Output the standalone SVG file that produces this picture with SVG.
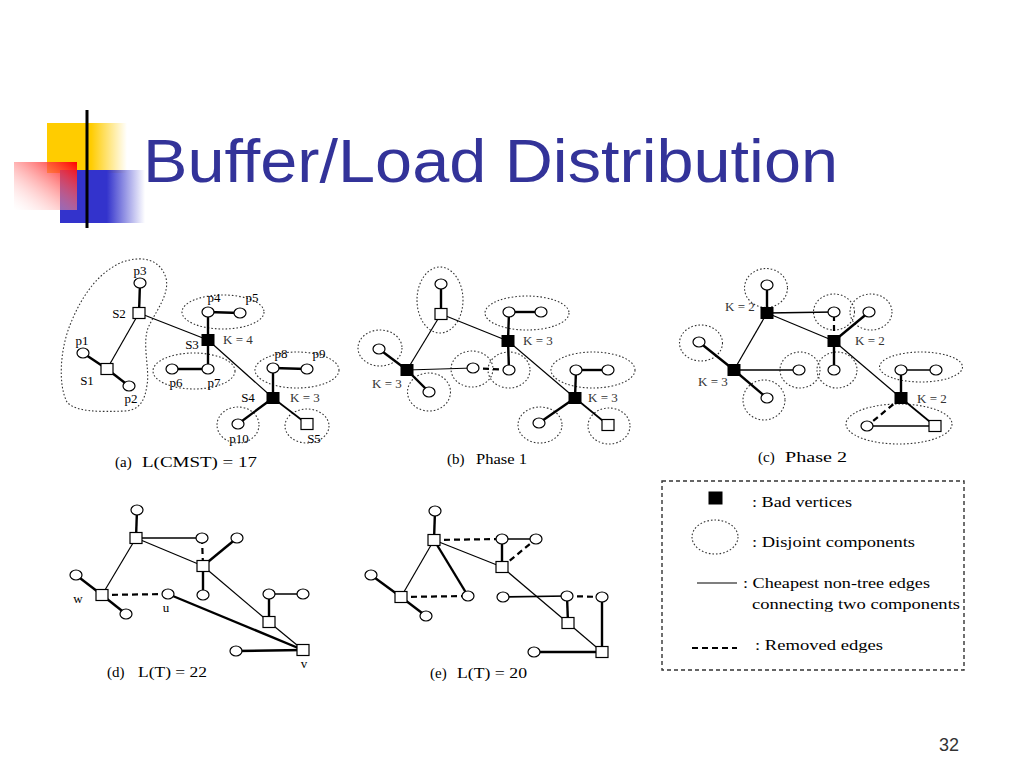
<svg xmlns="http://www.w3.org/2000/svg" width="1024" height="768" viewBox="0 0 1024 768">
<defs>
<linearGradient id="gY" x1="0" y1="0" x2="1" y2="0"><stop offset="0.55" stop-color="#FFCC00"/><stop offset="1" stop-color="#FFCC00" stop-opacity="0"/></linearGradient>
<linearGradient id="gB" x1="0" y1="0" x2="1" y2="0"><stop offset="0.55" stop-color="#3333CC"/><stop offset="1" stop-color="#3333CC" stop-opacity="0"/></linearGradient>
<linearGradient id="gR" x1="1" y1="0" x2="0" y2="1"><stop offset="0" stop-color="#FF0000"/><stop offset="1" stop-color="#FFFFFF" stop-opacity="0.2"/></linearGradient>
<linearGradient id="gL" x1="0" y1="0" x2="1" y2="0"><stop offset="0" stop-color="#000000"/><stop offset="0.5" stop-color="#777777"/><stop offset="1" stop-color="#DDDDDD" stop-opacity="0.3"/></linearGradient>
<clipPath id="clipE"><rect x="400" y="655" width="150" height="26"/></clipPath>
</defs>
<style>
.c{fill:#fff;stroke:#000;stroke-width:1.2}
.s{fill:#fff;stroke:#000;stroke-width:1.2}
.b{fill:#000;stroke:#000;stroke-width:1}
.comp{fill:none;stroke:#333;stroke-width:1.1;stroke-dasharray:1.6 2}
.thin{stroke:#000;stroke-width:1.2;fill:none}
.med{stroke:#000;stroke-width:1.7;fill:none}
.thick{stroke:#000;stroke-width:2.4;fill:none}
.dash{stroke:#000;stroke-width:2.2;stroke-dasharray:6 4;fill:none}
.lbl{font-family:"Liberation Serif",serif;font-size:13px;fill:#000;text-anchor:middle}
.k{font-family:"Liberation Serif",serif;font-size:13px;fill:#333}
.cap{font-family:"Liberation Serif",serif;font-size:15px;fill:#000}
.leg{font-family:"Liberation Serif",serif;font-size:15px;fill:#000}
</style>
<rect width="1024" height="768" fill="#fff"/>

<!-- title decoration -->
<g id="title-decoration">
<rect x="47" y="123" width="80" height="50" fill="url(#gY)"/>
<rect x="60" y="170" width="85" height="53" fill="url(#gB)"/>
<rect x="14" y="162" width="63" height="48" fill="url(#gR)"/>
<line x1="87" y1="110" x2="87" y2="228" stroke="#000" stroke-width="3"/>
<line x1="49" y1="201" x2="965" y2="201" stroke="url(#gL)" stroke-width="3"/>
</g>
<text id="title" x="143" y="182" font-family="Liberation Sans, sans-serif" font-size="62" fill="#333399" textLength="695" lengthAdjust="spacingAndGlyphs">Buffer/Load Distribution</text>
<text id="page-number" x="939" y="751" font-family="Liberation Sans, sans-serif" font-size="18" fill="#333">32</text>

<!-- components -->
<g id="components">
<path class="comp" d="M67,402 C58,385 60,350 70,325 C80,300 95,275 120,263 C140,255 160,258 166,278 C170,295 155,312 148,328 C142,345 150,370 147,385 C145,400 140,410 125,411 C100,412 75,412 67,402 Z"/>
<ellipse class="comp" cx="223" cy="312" rx="41" ry="17"/>
<ellipse class="comp" cx="194" cy="371" rx="41" ry="18"/>
<ellipse class="comp" cx="297" cy="370" rx="42" ry="18"/>
<ellipse class="comp" cx="238" cy="425" rx="21" ry="18"/>
<ellipse class="comp" cx="307" cy="426" rx="22" ry="17"/>

<ellipse class="comp" cx="440" cy="300" rx="23" ry="33"/>
<ellipse class="comp" cx="527" cy="313" rx="42" ry="17"/>
<ellipse class="comp" cx="380" cy="348" rx="22" ry="18"/>
<ellipse class="comp" cx="429" cy="392" rx="21.5" ry="19"/>
<ellipse class="comp" cx="472" cy="369" rx="21" ry="18"/>
<ellipse class="comp" cx="509" cy="370" rx="21" ry="18"/>
<ellipse class="comp" cx="593" cy="370" rx="42" ry="18"/>
<ellipse class="comp" cx="540" cy="425" rx="22" ry="18"/>
<ellipse class="comp" cx="609" cy="426" rx="21" ry="18"/>

<ellipse class="comp" cx="766" cy="288" rx="21.5" ry="19.5"/>
<ellipse class="comp" cx="834" cy="312" rx="20.5" ry="18"/>
<ellipse class="comp" cx="871" cy="312" rx="21" ry="18"/>
<ellipse class="comp" cx="837" cy="370" rx="20" ry="18"/>
<ellipse class="comp" cx="701" cy="343" rx="21.5" ry="18"/>
<ellipse class="comp" cx="800" cy="370" rx="20" ry="18"/>
<ellipse class="comp" cx="764" cy="400" rx="21" ry="20"/>
<ellipse class="comp" cx="921" cy="367" rx="41.5" ry="15"/>
<ellipse class="comp" cx="899" cy="424" rx="53" ry="20"/>
</g>

<!-- connectors -->
<g id="connectors">
<!-- (a) -->
<line class="thick" x1="140" y1="283" x2="139" y2="313"/>
<line class="thin" x1="139" y1="313" x2="107" y2="369"/>
<line class="thick" x1="107" y1="369" x2="83" y2="353"/>
<line class="thick" x1="107" y1="369" x2="129" y2="386"/>
<line class="thin" x1="139" y1="313" x2="208" y2="340"/>
<line class="thick" x1="208" y1="340" x2="208" y2="312"/>
<line class="thick" x1="208" y1="312" x2="240" y2="313"/>
<line class="thick" x1="208" y1="340" x2="208" y2="369"/>
<line class="thick" x1="172" y1="369" x2="208" y2="369"/>
<line class="thin" x1="208" y1="340" x2="273" y2="398"/>
<line class="thick" x1="273" y1="398" x2="273" y2="368"/>
<line class="thick" x1="273" y1="368" x2="307" y2="369"/>
<line class="thick" x1="273" y1="398" x2="238" y2="424"/>
<line class="med" x1="273" y1="398" x2="307" y2="424"/>
<!-- (b) -->
<line class="thick" x1="441" y1="284" x2="441" y2="314"/>
<line class="thin" x1="441" y1="314" x2="508" y2="341"/>
<line class="thin" x1="441" y1="314" x2="407" y2="370"/>
<line class="thick" x1="508" y1="341" x2="509" y2="312"/>
<line class="thick" x1="509" y1="312" x2="541" y2="312"/>
<line class="thick" x1="508" y1="341" x2="509" y2="370"/>
<line class="thick" x1="407" y1="370" x2="379" y2="349"/>
<line class="thick" x1="407" y1="370" x2="429" y2="392"/>
<line class="thin" x1="407" y1="370" x2="473" y2="368"/>
<line class="dash" x1="473" y1="368" x2="509" y2="370"/>
<line class="thin" x1="508" y1="341" x2="575" y2="398"/>
<line class="thick" x1="575" y1="398" x2="576" y2="370"/>
<line class="thick" x1="576" y1="370" x2="608" y2="370"/>
<line class="thick" x1="575" y1="398" x2="539" y2="423"/>
<line class="med" x1="575" y1="398" x2="608" y2="425"/>
<!-- (c) -->
<line class="thick" x1="767" y1="285" x2="767" y2="313"/>
<line class="med" x1="767" y1="313" x2="834" y2="312"/>
<line class="dash" x1="834" y1="341" x2="834" y2="312"/>
<line class="thick" x1="834" y1="341" x2="869" y2="312"/>
<line class="thin" x1="767" y1="313" x2="834" y2="341"/>
<line class="thick" x1="834" y1="341" x2="834" y2="370"/>
<line class="thin" x1="767" y1="313" x2="734" y2="370"/>
<line class="thick" x1="734" y1="370" x2="699" y2="342"/>
<line class="med" x1="734" y1="370" x2="799" y2="370"/>
<line class="thick" x1="734" y1="370" x2="767" y2="398"/>
<line class="thin" x1="834" y1="341" x2="901" y2="398"/>
<line class="thick" x1="901" y1="398" x2="901" y2="370"/>
<line class="med" x1="901" y1="370" x2="936" y2="370"/>
<line class="dash" x1="901" y1="398" x2="867" y2="426"/>
<line class="med" x1="901" y1="398" x2="935" y2="426"/>
<line class="med" x1="867" y1="426" x2="935" y2="426"/>
<!-- (d) -->
<line class="thick" x1="137" y1="510" x2="136" y2="538"/>
<line class="med" x1="136" y1="538" x2="202" y2="538"/>
<line class="dash" x1="202" y1="538" x2="203" y2="566"/>
<line class="thick" x1="203" y1="566" x2="237" y2="538"/>
<line class="thick" x1="203" y1="566" x2="203" y2="595"/>
<line class="thin" x1="136" y1="538" x2="203" y2="566"/>
<line class="thin" x1="136" y1="538" x2="102" y2="595"/>
<line class="thick" x1="102" y1="595" x2="76" y2="575"/>
<line class="thick" x1="102" y1="595" x2="126" y2="614"/>
<line class="dash" x1="102" y1="595" x2="168" y2="594"/>
<line class="thin" x1="203" y1="566" x2="269" y2="622"/>
<line class="thick" x1="269" y1="622" x2="269" y2="594"/>
<line class="med" x1="269" y1="594" x2="303" y2="594"/>
<line class="thin" x1="269" y1="622" x2="303" y2="650"/>
<line class="thick" x1="168" y1="594" x2="303" y2="650"/>
<line class="thick" x1="236" y1="651" x2="303" y2="650"/>
<!-- (e) -->
<line class="thick" x1="435" y1="511" x2="434" y2="540"/>
<line class="dash" x1="434" y1="540" x2="502" y2="539"/>
<line class="med" x1="502" y1="539" x2="536" y2="539"/>
<line class="thick" x1="502" y1="567" x2="502" y2="539"/>
<line class="dash" x1="502" y1="567" x2="536" y2="539"/>
<line class="thin" x1="434" y1="540" x2="502" y2="567"/>
<line class="thick" x1="434" y1="540" x2="468" y2="596"/>
<line class="thin" x1="434" y1="540" x2="401" y2="597"/>
<line class="dash" x1="401" y1="597" x2="468" y2="596"/>
<line class="thick" x1="401" y1="597" x2="371" y2="575"/>
<line class="thick" x1="401" y1="597" x2="426" y2="616"/>
<line class="med" x1="503" y1="597" x2="567" y2="596"/>
<line class="dash" x1="567" y1="596" x2="602" y2="597"/>
<line class="thick" x1="567" y1="596" x2="568" y2="623"/>
<line class="thin" x1="502" y1="567" x2="568" y2="623"/>
<line class="thin" x1="568" y1="623" x2="602" y2="652"/>
<line class="thick" x1="602" y1="597" x2="602" y2="652"/>
<line class="thick" x1="534" y1="652" x2="602" y2="652"/>
</g>

<!-- panel (a) nodes -->
<g id="a-p3"><ellipse class="c" cx="140" cy="283" rx="6" ry="5"/><text class="lbl" x="140" y="275">p3</text></g>
<g id="a-S2"><rect class="s" x="133" y="307.5" width="12" height="11"/><text class="lbl" x="119" y="318">S2</text></g>
<g id="a-S1"><rect class="s" x="101" y="363.5" width="12" height="11"/><text class="lbl" x="87" y="385">S1</text></g>
<g id="a-p1"><ellipse class="c" cx="83" cy="353" rx="6" ry="5"/><text class="lbl" x="82" y="345">p1</text></g>
<g id="a-p2"><ellipse class="c" cx="129" cy="386" rx="6" ry="5"/><text class="lbl" x="131" y="403">p2</text></g>
<g id="a-S3"><rect class="b" x="202" y="334.5" width="12" height="11"/><text class="lbl" x="192" y="349">S3</text><text class="k" x="223" y="344">K = 4</text></g>
<g id="a-p4"><ellipse class="c" cx="208" cy="312" rx="6" ry="5"/><text class="lbl" x="214" y="302">p4</text></g>
<g id="a-p5"><ellipse class="c" cx="240" cy="313" rx="6" ry="5"/><text class="lbl" x="252" y="302">p5</text></g>
<g id="a-p6"><ellipse class="c" cx="172" cy="369" rx="6" ry="5"/><text class="lbl" x="176" y="387">p6</text></g>
<g id="a-p7"><ellipse class="c" cx="208" cy="369" rx="6" ry="5"/><text class="lbl" x="214" y="387">p7</text></g>
<g id="a-S4"><rect class="b" x="267" y="392.5" width="12" height="11"/><text class="lbl" x="248" y="402">S4</text><text class="k" x="290" y="402">K = 3</text></g>
<g id="a-p8"><ellipse class="c" cx="273" cy="368" rx="6" ry="5"/><text class="lbl" x="281" y="358">p8</text></g>
<g id="a-p9"><ellipse class="c" cx="307" cy="369" rx="6" ry="5"/><text class="lbl" x="319" y="358">p9</text></g>
<g id="a-p10"><ellipse class="c" cx="238" cy="424" rx="6" ry="5"/><text class="lbl" x="239" y="443">p10</text></g>
<g id="a-S5"><rect class="s" x="301" y="418.5" width="12" height="11"/><text class="lbl" x="314" y="443">S5</text></g>
<g id="cap-a"><text class="cap" x="115" y="467">(a)</text><text class="cap" x="142" y="467" textLength="115" lengthAdjust="spacingAndGlyphs">L(CMST) = 17</text></g>

<!-- panel (b) nodes -->
<g id="b-n1"><ellipse class="c" cx="441" cy="284" rx="6" ry="5"/></g>
<g id="b-s1"><rect class="s" x="435" y="308.5" width="12" height="11"/></g>
<g id="b-B1"><rect class="b" x="502" y="335.5" width="12" height="11"/><text class="k" x="523" y="345">K = 3</text></g>
<g id="b-n2"><ellipse class="c" cx="509" cy="312" rx="6" ry="5"/></g>
<g id="b-n3"><ellipse class="c" cx="541" cy="312" rx="6" ry="5"/></g>
<g id="b-B2"><rect class="b" x="401" y="364.5" width="12" height="11"/><text class="k" x="372" y="388">K = 3</text></g>
<g id="b-n4"><ellipse class="c" cx="379" cy="349" rx="6" ry="5"/></g>
<g id="b-n5"><ellipse class="c" cx="429" cy="392" rx="6" ry="5"/></g>
<g id="b-n6"><ellipse class="c" cx="473" cy="368" rx="6" ry="5"/></g>
<g id="b-n7"><ellipse class="c" cx="509" cy="370" rx="6" ry="5"/></g>
<g id="b-B3"><rect class="b" x="569" y="392.5" width="12" height="11"/><text class="k" x="588" y="402">K = 3</text></g>
<g id="b-n8"><ellipse class="c" cx="576" cy="370" rx="6" ry="5"/></g>
<g id="b-n9"><ellipse class="c" cx="608" cy="370" rx="6" ry="5"/></g>
<g id="b-n10"><ellipse class="c" cx="539" cy="423" rx="6" ry="5"/></g>
<g id="b-s2"><rect class="s" x="602" y="419.5" width="12" height="11"/></g>
<g id="cap-b"><text class="cap" x="447" y="464">(b)</text><text class="cap" x="476" y="464" textLength="51" lengthAdjust="spacingAndGlyphs">Phase 1</text></g>

<!-- panel (c) nodes -->
<g id="c-n1"><ellipse class="c" cx="767" cy="285" rx="6" ry="5"/></g>
<g id="c-C1"><rect class="b" x="761" y="307.5" width="12" height="11"/><text class="k" x="725" y="311">K = 2</text></g>
<g id="c-n2"><ellipse class="c" cx="834" cy="312" rx="6" ry="5"/></g>
<g id="c-n3"><ellipse class="c" cx="869" cy="312" rx="6" ry="5"/></g>
<g id="c-C2"><rect class="b" x="828" y="335.5" width="12" height="11"/><text class="k" x="855" y="345">K = 2</text></g>
<g id="c-n4"><ellipse class="c" cx="834" cy="370" rx="6" ry="5"/></g>
<g id="c-C3"><rect class="b" x="728" y="364.5" width="12" height="11"/><text class="k" x="698" y="386">K = 3</text></g>
<g id="c-n5"><ellipse class="c" cx="699" cy="342" rx="6" ry="5"/></g>
<g id="c-n6"><ellipse class="c" cx="799" cy="370" rx="6" ry="5"/></g>
<g id="c-n7"><ellipse class="c" cx="767" cy="398" rx="6" ry="5"/></g>
<g id="c-C4"><rect class="b" x="895" y="392.5" width="12" height="11"/><text class="k" x="917" y="403">K = 2</text></g>
<g id="c-n8"><ellipse class="c" cx="901" cy="370" rx="6" ry="5"/></g>
<g id="c-n9"><ellipse class="c" cx="936" cy="370" rx="6" ry="5"/></g>
<g id="c-n10"><ellipse class="c" cx="867" cy="426" rx="6" ry="5"/></g>
<g id="c-s1"><rect class="s" x="929" y="420.5" width="12" height="11"/></g>
<g id="cap-c"><text class="cap" x="758" y="462">(c)</text><text class="cap" x="785" y="462" textLength="62" lengthAdjust="spacingAndGlyphs">Phase 2</text></g>

<!-- panel (d) nodes -->
<g id="d-n1"><ellipse class="c" cx="137" cy="510" rx="6" ry="5"/></g>
<g id="d-s1"><rect class="s" x="130" y="532.5" width="12" height="11"/></g>
<g id="d-n2"><ellipse class="c" cx="202" cy="538" rx="6" ry="5"/></g>
<g id="d-s2"><rect class="s" x="197" y="560.5" width="12" height="11"/></g>
<g id="d-n3"><ellipse class="c" cx="237" cy="538" rx="6" ry="5"/></g>
<g id="d-n4"><ellipse class="c" cx="203" cy="595" rx="6" ry="5"/></g>
<g id="d-w"><rect class="s" x="96" y="589.5" width="12" height="11"/><text class="lbl" x="78" y="603">w</text></g>
<g id="d-n5"><ellipse class="c" cx="76" cy="575" rx="6" ry="5"/></g>
<g id="d-n6"><ellipse class="c" cx="126" cy="614" rx="6" ry="5"/></g>
<g id="d-u"><ellipse class="c" cx="168" cy="594" rx="6" ry="5"/><text class="lbl" x="166" y="612">u</text></g>
<g id="d-s3"><rect class="s" x="263" y="616.5" width="12" height="11"/></g>
<g id="d-n7"><ellipse class="c" cx="269" cy="594" rx="6" ry="5"/></g>
<g id="d-n8"><ellipse class="c" cx="303" cy="594" rx="6" ry="5"/></g>
<g id="d-v"><rect class="s" x="297" y="644.5" width="12" height="11"/><text class="lbl" x="304" y="668">v</text></g>
<g id="d-n9"><ellipse class="c" cx="236" cy="651" rx="6" ry="5"/></g>
<g id="cap-d"><text class="cap" x="107" y="677">(d)</text><text class="cap" x="138" y="677" textLength="69" lengthAdjust="spacingAndGlyphs">L(T) = 22</text></g>

<!-- panel (e) nodes -->
<g id="e-n1"><ellipse class="c" cx="435" cy="511" rx="6" ry="5"/></g>
<g id="e-s1"><rect class="s" x="428" y="534.5" width="12" height="11"/></g>
<g id="e-n2"><ellipse class="c" cx="502" cy="539" rx="6" ry="5"/></g>
<g id="e-n3"><ellipse class="c" cx="536" cy="539" rx="6" ry="5"/></g>
<g id="e-s2"><rect class="s" x="496" y="561.5" width="12" height="11"/></g>
<g id="e-n4"><ellipse class="c" cx="468" cy="596" rx="6" ry="5"/></g>
<g id="e-s3"><rect class="s" x="395" y="591.5" width="12" height="11"/></g>
<g id="e-n5"><ellipse class="c" cx="371" cy="575" rx="6" ry="5"/></g>
<g id="e-n6"><ellipse class="c" cx="426" cy="616" rx="6" ry="5"/></g>
<g id="e-n7"><ellipse class="c" cx="503" cy="597" rx="6" ry="5"/></g>
<g id="e-n8"><ellipse class="c" cx="567" cy="596" rx="6" ry="5"/></g>
<g id="e-n9"><ellipse class="c" cx="602" cy="597" rx="6" ry="5"/></g>
<g id="e-s4"><rect class="s" x="562" y="617.5" width="12" height="11"/></g>
<g id="e-s5"><rect class="s" x="596" y="646.5" width="12" height="11"/></g>
<g id="e-n10"><ellipse class="c" cx="534" cy="652" rx="6" ry="5"/></g>
<g id="cap-e" clip-path="url(#clipE)"><text class="cap" x="430" y="678">(e)</text><text class="cap" x="457" y="678" textLength="70" lengthAdjust="spacingAndGlyphs">L(T) = 20</text></g>

<!-- legend -->
<g id="legend">
<rect x="662" y="481" width="302" height="189" fill="none" stroke="#333" stroke-width="1.4" stroke-dasharray="4 3"/>
<rect class="b" x="709" y="492" width="13" height="12"/>
<text class="leg" x="752" y="507" textLength="100" lengthAdjust="spacingAndGlyphs">: Bad vertices</text>
<ellipse class="comp" cx="715" cy="537" rx="23" ry="17"/>
<text class="leg" x="752" y="547" textLength="163" lengthAdjust="spacingAndGlyphs">: Disjoint components</text>
<line class="thin" x1="697" y1="583" x2="737" y2="583"/>
<text class="leg" x="743" y="588" textLength="187" lengthAdjust="spacingAndGlyphs">: Cheapest non-tree edges</text>
<text class="leg" x="752" y="609" textLength="208" lengthAdjust="spacingAndGlyphs">connecting two components</text>
<line x1="692" y1="648" x2="737" y2="648" stroke="#000" stroke-width="1.8" stroke-dasharray="6 4"/>
<text class="leg" x="755" y="650" textLength="128" lengthAdjust="spacingAndGlyphs">: Removed edges</text>
</g>
</svg>
